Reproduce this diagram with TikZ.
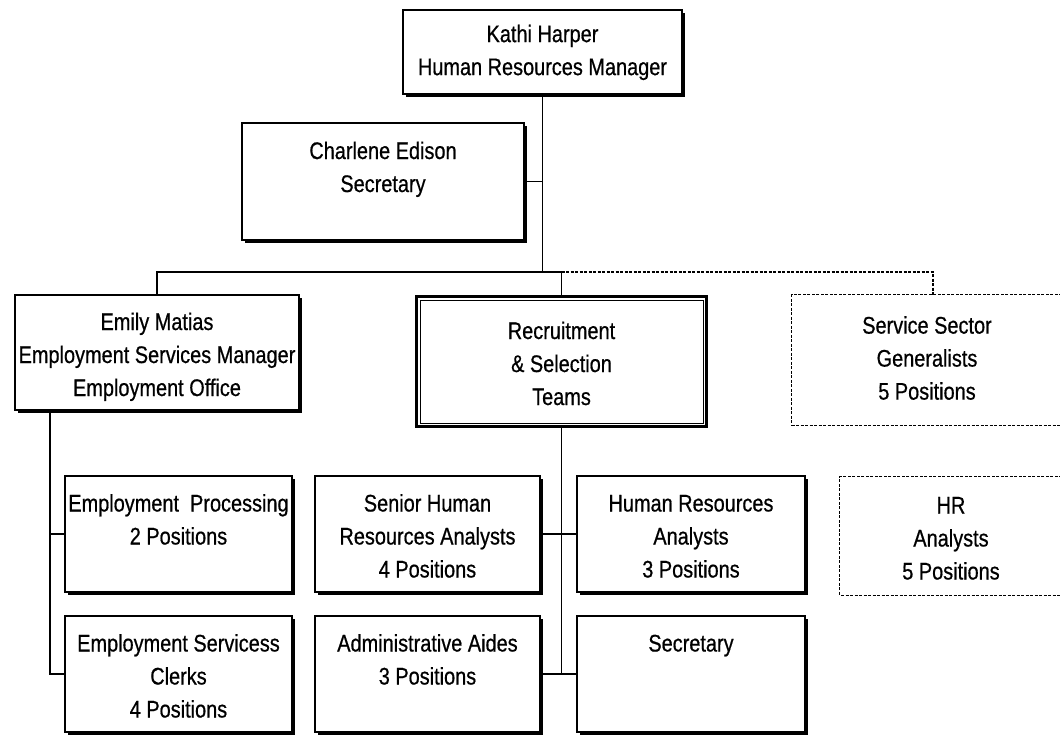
\documentclass[tikz,border=0pt]{standalone}
\usepackage{fontspec}
\setmainfont{Liberation Sans}[FakeStretch=0.83,FakeBold=0.6]
\usetikzlibrary{shadows}
\newcommand\tl{\rule[-6pt]{0pt}{33pt}}
\tikzset{
  box/.style={draw, line width=1.6pt, fill=white, align=center, inner sep=0pt,
    font=\fontsize{24}{33}\selectfont,
    drop shadow={shadow xshift=3pt, shadow yshift=-3pt, opacity=1, fill=black}},
  dbox/.style={align=center, inner sep=0pt, font=\fontsize{24}{33}\selectfont},
  rbox/.style={draw, line width=3pt, fill=white, align=center, inner sep=0pt,
    font=\fontsize{24}{33}\selectfont},
  conn/.style={line width=1.9pt},
  dconn/.style={line width=1.2pt, dash pattern=on 3pt off 1.5pt},
}
\begin{document}
\begin{tikzpicture}[x=1pt,y=-1pt]
\fill[white] (0,0) rectangle (1060,737);
\useasboundingbox (0,0) rectangle (1060,737);

% boxes
\node[box, minimum width=279pt, minimum height=84pt] (kathi) at (542.5,52)
  {\strut Kathi Harper\\\strut Human Resources Manager};
\node[box, minimum width=282pt, minimum height=117pt] (charlene) at (383,181.5)
  {\tl Charlene Edison\\\tl Secretary\\\tl};
\node[box, minimum width=284pt, minimum height=115pt] (emily) at (157,352.5)
  {\tl Emily Matias\\\tl Employment Services Manager\\\tl Employment Office};
\node[rbox, minimum width=290pt, minimum height=130pt] (recruit) at (561.5,361.5)
  {\tl Recruitment\\\tl \& Selection\\\tl Teams};
\draw[line width=0.8pt] ([shift={(5pt,-5pt)}]recruit.north west) rectangle ([shift={(-5pt,5pt)}]recruit.south east);
\node[dbox, minimum width=270pt, minimum height=130pt] (service) at (927,360)
  {\strut Service Sector\\\strut Generalists\\\strut 5 Positions};
\draw[dconn] (service.north east) -- (service.north west) -- (service.south west) -- (service.south east);

\node[box, minimum width=227pt, minimum height=116pt] (ep) at (178.5,534)
  {\tl Employment\ \ Processing\\\tl 2 Positions\\\tl};
\node[box, minimum width=227pt, minimum height=116pt] (esc) at (178.5,674)
  {\tl Employment Servicess\\\tl Clerks\\\tl 4 Positions};
\node[box, minimum width=225pt, minimum height=116pt] (senior) at (427.5,534)
  {\tl Senior Human\\\tl Resources Analysts\\\tl 4 Positions};
\node[box, minimum width=225pt, minimum height=116pt] (admin) at (427.5,674)
  {\tl Administrative Aides\\\tl 3 Positions\\\tl};
\node[box, minimum width=228pt, minimum height=116pt] (hra) at (691,534)
  {\tl Human Resources\\\tl Analysts\\\tl 3 Positions};
\node[box, minimum width=228pt, minimum height=116pt] (sec) at (691,674)
  {\tl Secretary\\\tl\\\tl};
\node[dbox, minimum width=222pt, minimum height=118pt] (hr) at (951,536)
  {\tl HR\\\tl Analysts\\\tl 5 Positions};
\draw[dconn] (hr.north east) -- (hr.north west) -- (hr.south west) -- (hr.south east);

% connectors
\coordinate (bus) at (157,272);
\coordinate (svcj) at (933,295);
\coordinate (espine) at (50,410);
\draw[conn] (kathi.south) -- (kathi.south |- bus);
\draw[conn] (charlene.east) -- (charlene.east -| kathi.south);
\draw[conn] (emily.north) -- (emily.north |- bus) -- (recruit.north |- bus) -- (recruit.north);
\draw[dconn] (recruit.north |- bus) -| (svcj);
\draw[conn] (espine) |- (esc.west);
\draw[conn] (espine |- ep.west) -- (ep.west);
\draw[conn] (recruit.south) -- (recruit.south |- sec.west);
\draw[conn] (senior.east) -- (hra.west);
\draw[conn] (admin.east) -- (sec.west);
\end{tikzpicture}
\end{document}
